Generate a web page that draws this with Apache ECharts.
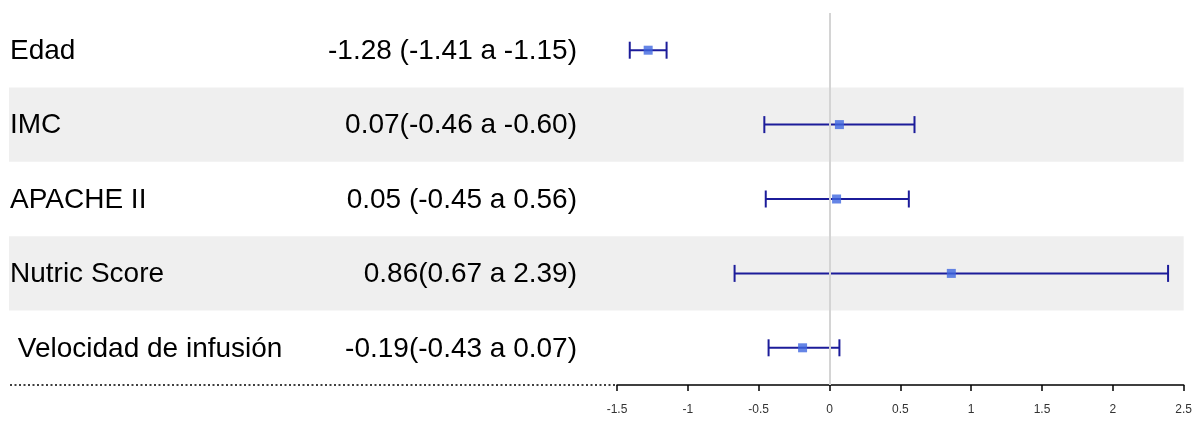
<!DOCTYPE html>
<html>
<head>
<meta charset="utf-8">
<script src="https://cdn.jsdelivr.net/npm/echarts@6/dist/echarts.min.js"></script>
<style>
html,body{margin:0;padding:0;background:#fff;}
#chart{width:1195px;height:421px;}
</style>
</head>
<body>
<div id="chart"></div>
<script>
// ---- data ----
var variables = ['Edad', 'IMC', 'APACHE II', 'Nutric Score', ' Velocidad de infusión'];
var estimateLabels = ['-1.28 (-1.41 a -1.15)', '0.07(-0.46 a -0.60)', '0.05 (-0.45 a 0.56)', '0.86(0.67 a 2.39)', '-0.19(-0.43 a 0.07)'];
var estimates = [-1.28, 0.07, 0.05, 0.86, -0.19];
var lowerCI = [-1.41, -0.46, -0.45, -0.67, -0.43];
var upperCI = [-1.15, 0.60, 0.56, 2.39, 0.07];
var xTicks = { min: -1.5, max: 2.5, interval: 0.5 };

// ---- layout ----
var GRID = { left: 617, right: 10, top: 13, bottom: 36 };
var BAND_LEFT = 9;
var NAME_X = 10;
var EST_RIGHT = 577;
var TEXT_DY = 1;
var FONT = '"Liberation Sans", Arial, Helvetica, sans-serif';

var chart = echarts.init(document.getElementById('chart'), null, { renderer: 'canvas' });

var rows = variables.map(function (v, i) { return [i]; });

var option = {
  animation: false,
  grid: { left: GRID.left, right: GRID.right, top: GRID.top, bottom: GRID.bottom, containLabel: false },
  xAxis: {
    type: 'value', min: xTicks.min, max: xTicks.max, interval: xTicks.interval,
    axisLine: { show: true, lineStyle: { color: '#000', width: 1.5 } },
    axisTick: { show: true, length: 6, lineStyle: { color: '#000', width: 1.5 } },
    axisLabel: { color: '#333', fontSize: 12, fontFamily: FONT, margin: 19 },
    splitLine: { show: false }
  },
  yAxis: {
    type: 'category', data: variables, inverse: true, show: false
  },
  graphic: [{
    type: 'line', z: 5,
    shape: { x1: NAME_X, y1: 421 - GRID.bottom, x2: GRID.left, y2: 421 - GRID.bottom },
    style: { stroke: '#000', lineWidth: 1.5, lineDash: [2, 2.5] }
  }],
  series: [
    {
      type: 'custom', z: 1, silent: true, clip: false,
      data: rows,
      encode: { y: 0 },
      renderItem: function (params, api) {
        var i = api.value(0);
        var c = api.coord([0, i]);
        var band = api.size([0, 1])[1];
        var cs = params.coordSys;
        var children = [];
        if (i % 2 === 1) {
          children.push({
            type: 'rect',
            shape: { x: BAND_LEFT, y: c[1] - band / 2, width: cs.x + cs.width - BAND_LEFT, height: band },
            style: { fill: '#efefef' }
          });
        }
        children.push({
          type: 'text',
          style: { x: NAME_X, y: c[1] + TEXT_DY, text: variables[i], fill: '#000', font: '28px ' + FONT, textAlign: 'left', textVerticalAlign: 'middle' }
        });
        children.push({
          type: 'text',
          style: { x: EST_RIGHT, y: c[1] + TEXT_DY, text: estimateLabels[i], fill: '#000', font: '28px ' + FONT, textAlign: 'right', textVerticalAlign: 'middle' }
        });
        return { type: 'group', children: children };
      }
    },
    {
      type: 'line', z: 2, data: [], silent: true,
      markLine: {
        silent: true, symbol: 'none', label: { show: false },
        lineStyle: { color: '#d4d4d4', width: 2, type: 'solid' },
        data: [{ xAxis: 0 }]
      }
    },
    {
      type: 'custom', z: 3, silent: true,
      data: variables.map(function (v, i) { return [lowerCI[i], upperCI[i], i]; }),
      encode: { x: [0, 1], y: 2 },
      renderItem: function (params, api) {
        var lo = api.coord([api.value(0), api.value(2)]);
        var hi = api.coord([api.value(1), api.value(2)]);
        var h = 8.5;
        var st = { stroke: '#1c1c9a', lineWidth: 2 };
        return {
          type: 'group',
          children: [
            { type: 'line', shape: { x1: lo[0], y1: lo[1], x2: hi[0], y2: hi[1] }, style: st },
            { type: 'line', shape: { x1: lo[0], y1: lo[1] - h, x2: lo[0], y2: lo[1] + h }, style: st },
            { type: 'line', shape: { x1: hi[0], y1: hi[1] - h, x2: hi[0], y2: hi[1] + h }, style: st }
          ]
        };
      }
    },
    {
      type: 'scatter', z: 4, silent: true,
      symbol: 'rect', symbolSize: 9,
      itemStyle: { color: '#3f66e0' },
      data: estimates.map(function (e, i) { return [e, i]; })
    }
  ]
};
chart.setOption(option);
</script>
</body>
</html>
